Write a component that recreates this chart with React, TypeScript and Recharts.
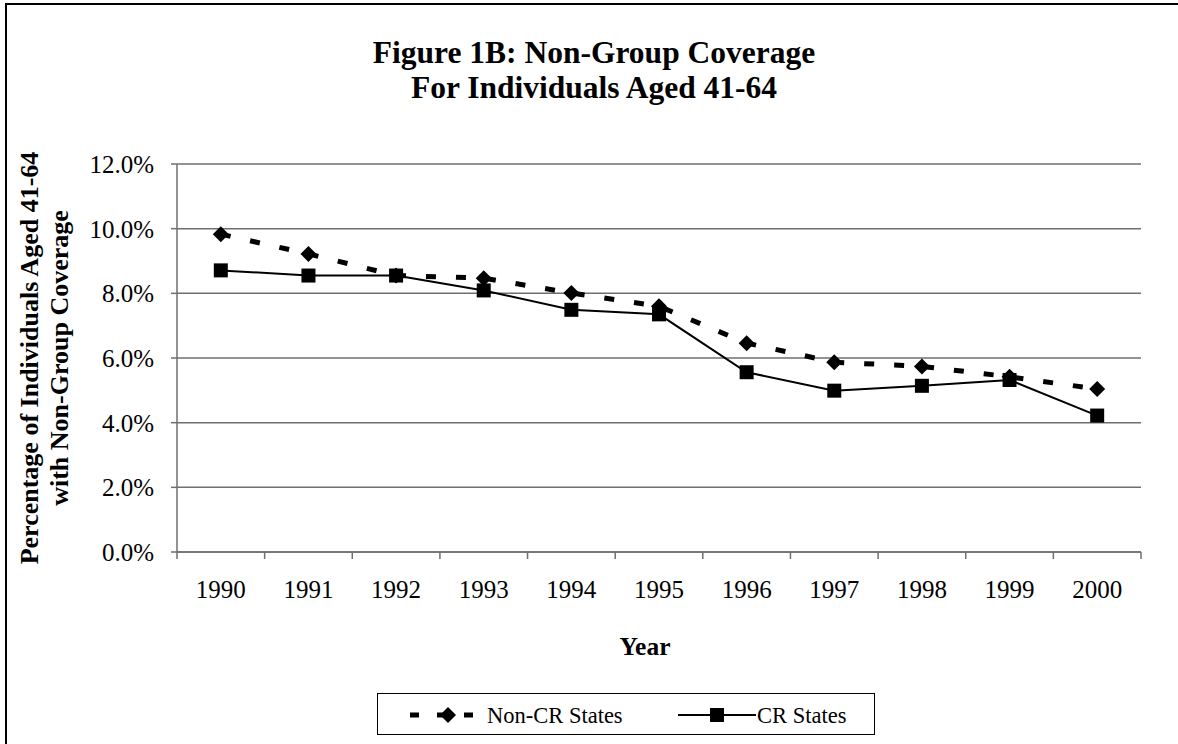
import React from 'react';
import { CartesianGrid, Line, LineChart, XAxis, YAxis } from 'recharts';

const years = ['1990', '1991', '1992', '1993', '1994', '1995', '1996', '1997', '1998', '1999', '2000'];
const nonCrStates = [9.83, 9.22, 8.55, 8.47, 8.01, 7.6, 6.46, 5.87, 5.74, 5.42, 5.04];
const crStates = [8.71, 8.55, 8.55, 8.09, 7.49, 7.35, 5.56, 4.99, 5.14, 5.32, 4.22];
const yTicks = [0, 2, 4, 6, 8, 10, 12];

const data = years.map((year, i) => ({ year, nonCr: nonCrStates[i], cr: crStates[i] }));

const FONT = '"Liberation Serif", "Times New Roman", serif';
const AXIS = '#6f6f6f';

// plot box
const W = 1178;
const H = 744;
const M = { top: 164, right: 37, left: 97, bottom: 132 };
const Y_AXIS_W = 80;
const HALF_BAND = (W - M.left - Y_AXIS_W - M.right) / years.length / 2;

const Diamond = (props: any) => {
  const { cx, cy, index } = props;
  if (cx == null || cy == null) return null;
  const r = 8;
  return (
    <path
      key={`d-${index}`}
      d={`M${cx},${cy - r} L${cx + r},${cy} L${cx},${cy + r} L${cx - r},${cy} Z`}
      fill="#000"
    />
  );
};

const Square = (props: any) => {
  const { cx, cy, index } = props;
  if (cx == null || cy == null) return null;
  const s = 7;
  return <rect key={`s-${index}`} x={cx - s} y={cy - s} width={s * 2} height={s * 2} fill="#000" />;
};

// year label plus Excel-style tick marks on the category boundaries
const YearTick = (props: any) => {
  const { x, y, payload, index } = props;
  const last = index === years.length - 1;
  return (
    <g>
      <line x1={x - HALF_BAND} x2={x - HALF_BAND} y1={y} y2={y + 7} stroke={AXIS} strokeWidth={1.5} />
      {last && <line x1={x + HALF_BAND} x2={x + HALF_BAND} y1={y} y2={y + 7} stroke={AXIS} strokeWidth={1.5} />}
      <text x={x} y={y + 28} dy="0.71em" textAnchor="middle" fill="#000" fontSize={25} fontFamily={FONT}>
        {payload.value}
      </text>
    </g>
  );
};

const LegendBox = () => (
  <div
    style={{
      position: 'absolute',
      left: 377,
      top: 693,
      width: 496,
      height: 40,
      border: '1.5px solid #000',
      background: '#fff',
    }}
  >
    <svg width={496} height={40} style={{ position: 'absolute', left: 0, top: 0 }}>
      <line x1={32} x2={96} y1={21} y2={21} stroke="#000" strokeWidth={5} strokeDasharray="9 18" />
      <path d="M70,13 L78,21 L70,29 L62,21 Z" fill="#000" />
      <line x1={300} x2={378} y1={21} y2={21} stroke="#000" strokeWidth={2} />
      <rect x={332} y={14} width={14} height={14} fill="#000" />
      <text x={109} y={29} fontFamily={FONT} fontSize={22.5}>Non-CR States</text>
      <text x={379} y={29} fontFamily={FONT} fontSize={22.5}>CR States</text>
    </svg>
  </div>
);

export default function App() {
  return (
    <div
      style={{
        position: 'absolute',
        left: 0,
        top: 0,
        width: W,
        height: H,
        overflow: 'hidden',
        background: '#fff',
        fontFamily: FONT,
      }}
    >
      <div
        style={{
          position: 'absolute',
          left: 5,
          top: 3,
          width: 1200,
          height: 800,
          borderLeft: '2px solid #000',
          borderTop: '2px solid #000',
        }}
      />
      <div
        style={{
          position: 'absolute',
          left: 0,
          top: 35,
          width: W,
          textAlign: 'center',
          fontWeight: 'bold',
          fontSize: 31.5,
          lineHeight: '35px',
        }}
      >
        <div style={{ marginLeft: 10 }}>Figure 1B: Non-Group Coverage</div>
        <div style={{ marginLeft: 10 }}>For Individuals Aged 41-64</div>
      </div>
      <div
        style={{
          position: 'absolute',
          left: 45 - 250,
          top: 358 - 30,
          width: 500,
          height: 60,
          transform: 'rotate(-90deg)',
          textAlign: 'center',
          fontWeight: 'bold',
          fontSize: 26,
          lineHeight: '30px',
        }}
      >
        <div>Percentage of Individuals Aged 41-64</div>
        <div>with Non-Group Coverage</div>
      </div>
      <div
        style={{
          position: 'absolute',
          left: 545,
          top: 632,
          width: 200,
          textAlign: 'center',
          fontWeight: 'bold',
          fontSize: 25.5,
        }}
      >
        Year
      </div>
      <div style={{ position: 'absolute', left: 0, top: 0 }}>
        <LineChart width={W} height={H} data={data} margin={M}>
          <CartesianGrid horizontal vertical={false} stroke={AXIS} strokeWidth={1.5} />
          <XAxis
            dataKey="year"
            padding={{ left: HALF_BAND, right: HALF_BAND }}
            axisLine={{ stroke: AXIS, strokeWidth: 1.5 }}
            tickLine={false}
            tickSize={0}
            tickMargin={0}
            height={60}
            tick={<YearTick />}
            interval={0}
          />
          <YAxis
            width={Y_AXIS_W}
            domain={[0, 12]}
            ticks={yTicks}
            tickFormatter={(v: number) => `${v.toFixed(1)}%`}
            axisLine={{ stroke: AXIS, strokeWidth: 1.5 }}
            tickLine={{ stroke: AXIS, strokeWidth: 1.5 }}
            tickSize={6}
            tickMargin={17}
            tick={{ fill: '#000', fontSize: 25, fontFamily: FONT }}
          />
          <Line
            dataKey="nonCr"
            stroke="#000"
            strokeWidth={5}
            strokeDasharray="10 20"
            dot={Diamond}
            activeDot={false}
            isAnimationActive={false}
          />
          <Line
            dataKey="cr"
            stroke="#000"
            strokeWidth={2}
            dot={Square}
            activeDot={false}
            isAnimationActive={false}
          />
        </LineChart>
      </div>
      <LegendBox />
    </div>
  );
}
